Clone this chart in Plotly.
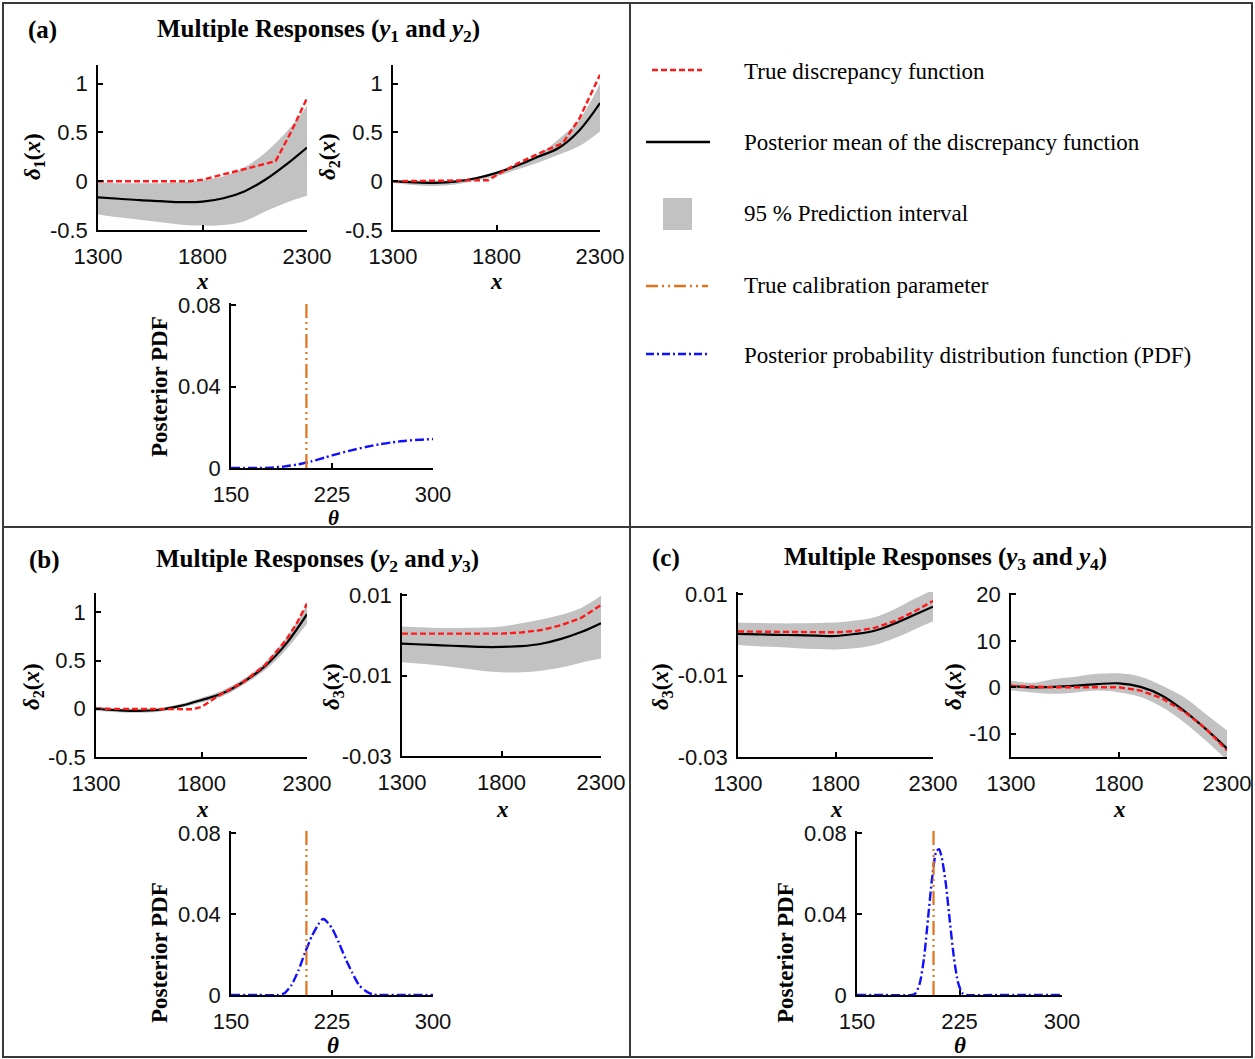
import plotly.graph_objects as go

W, H = 1255, 1059

# ---------------- data ----------------
X = [1300, 1400, 1500, 1600, 1700, 1800, 1900, 2000, 2100, 2200, 2300]

# (a) delta_1
A1_TRUE_X = [1300, 1740, 1800, 1900, 2000, 2100, 2150, 2225, 2300]
A1_TRUE_Y = [0, 0, 0.015, 0.07, 0.13, 0.18, 0.205, 0.51, 0.85]
A1_MEAN = [-0.165, -0.18, -0.195, -0.205, -0.215, -0.21, -0.175, -0.105, 0.015, 0.17, 0.345]
A1_UP = [-0.01, -0.02, -0.02, -0.02, -0.01, 0.01, 0.05, 0.14, 0.29, 0.5, 0.77]
A1_LO = [-0.34, -0.37, -0.395, -0.42, -0.445, -0.455, -0.45, -0.41, -0.31, -0.22, -0.15]

# (a) delta_2
A2_TRUE_X = [1300, 1760, 1800, 1900, 2000, 2120, 2200, 2250, 2300]
A2_TRUE_Y = [0, 0.01, 0.06, 0.18, 0.28, 0.39, 0.64, 0.86, 1.09]
A2_MEAN = [0, -0.012, -0.017, -0.005, 0.03, 0.085, 0.16, 0.25, 0.34, 0.52, 0.80]
A2_UP = [0.01, 0.008, 0.005, 0.01, 0.04, 0.095, 0.17, 0.27, 0.43, 0.63, 1.0]
A2_LO = [-0.017, -0.04, -0.05, -0.035, 0.007, 0.05, 0.12, 0.19, 0.27, 0.36, 0.51]

# (b) delta_2
B1_TRUE_X = [1300, 1700, 1760, 1800, 1850, 1900, 2000, 2100, 2200, 2250, 2300]
B1_TRUE_Y = [0, 0, -0.005, 0.02, 0.09, 0.16, 0.28, 0.45, 0.71, 0.88, 1.09]
B1_MEAN = [0, -0.015, -0.022, -0.01, 0.03, 0.09, 0.16, 0.28, 0.44, 0.67, 0.98]
B1_UP = [0.02, 0.005, -0.002, 0.01, 0.05, 0.115, 0.19, 0.31, 0.48, 0.73, 1.08]
B1_LO = [-0.02, -0.035, -0.042, -0.03, 0.01, 0.065, 0.13, 0.25, 0.40, 0.61, 0.88]

# (b) delta_3
B2_TRUE_X = [1300, 1800, 1900, 2000, 2100, 2200, 2300]
B2_TRUE_Y = [0.0004, 0.0004, 0.0007, 0.0013, 0.0025, 0.0043, 0.0075]
B2_MEAN = [-0.0021, -0.0023, -0.0025, -0.0027, -0.0029, -0.0029, -0.0027, -0.0021, -0.0009, 0.0008, 0.003]
B2_UP = [0.0022, 0.002, 0.0018, 0.0018, 0.0019, 0.0022, 0.003, 0.0039, 0.0051, 0.0068, 0.0098]
B2_LO = [-0.0067, -0.0071, -0.0076, -0.0082, -0.0088, -0.0092, -0.0092, -0.0088, -0.008, -0.0068, -0.0058]

# (c) delta_3
C1_TRUE_X = [1300, 1800, 1900, 2000, 2100, 2200, 2300]
C1_TRUE_Y = [0.0008, 0.0006, 0.0009, 0.0017, 0.0033, 0.0056, 0.0083]
C1_MEAN = [0.0002, 0.0001, 0.0, -0.0001, -0.0002, -0.0003, 0.0002, 0.001, 0.0027, 0.0048, 0.0069]
C1_UP = [0.003, 0.0029, 0.0028, 0.0028, 0.0029, 0.003, 0.0035, 0.0043, 0.0062, 0.0087, 0.011]
C1_LO = [-0.0025, -0.0028, -0.003, -0.0033, -0.0035, -0.0036, -0.0033, -0.0025, -0.0009, 0.0012, 0.0033]

# (c) delta_4
C2_TRUE_X = X
C2_TRUE_Y = [0.3, 0.1, 0.0, 0.0, 0.0, 0.0, -0.7, -2.4, -5.2, -8.8, -13.6]
C2_MEAN = [0.3, 0.0, 0.1, 0.35, 0.7, 0.85, 0.1, -1.8, -5.0, -8.9, -13.2]
C2_UP = [1.4, 1.0, 1.8, 2.3, 2.9, 3.0, 2.3, 0.35, -2.1, -5.7, -9.3]
C2_LO = [-0.7, -1.1, -1.4, -1.1, -0.7, -1.1, -2.1, -4.3, -7.5, -11.4, -15.7]

# posterior PDFs
TRUE_THETA = 206
PDF_A_T = [150, 160, 170, 180, 190, 200, 210, 220, 230, 240, 250, 260, 270, 280, 290, 300]
PDF_A_P = [0, 0, 0, 0.0002, 0.0008, 0.0018, 0.0033, 0.0052, 0.0071, 0.0088, 0.0103, 0.0116, 0.0126, 0.0134, 0.0139, 0.0142]
PDF_B_T = [150, 170, 185, 190, 195, 200, 205, 210, 215, 218, 220, 225, 230, 235, 240, 245, 250, 255, 260, 280, 300]
PDF_B_P = [0, 0, 0, 0.001, 0.005, 0.012, 0.021, 0.029, 0.035, 0.0375, 0.037, 0.033, 0.026, 0.018, 0.011, 0.005, 0.002, 0.0003, 0, 0, 0]
PDF_C_T = [150, 170, 190, 193, 196, 199, 202, 205, 208, 210, 212, 215, 218, 221, 224, 227, 230, 250, 270, 300]
PDF_C_P = [0, 0, 0, 0.001, 0.006, 0.018, 0.038, 0.058, 0.071, 0.072, 0.068, 0.055, 0.036, 0.018, 0.006, 0.001, 0, 0, 0, 0]

X_TICKS = [1300, 1800, 2300]
T_TICKS = [150, 225, 300]

# ---------------- styles ----------------
RED = "#ff1a1a"
BLUE = "#1010ff"
ORANGE = "#e2731e"
GRAY = "#c2c2c2"
FRAME = "#3a3a3a"
SERIF = "Liberation Serif"
SANS = "Liberation Sans"
TICKFONT = dict(family=SANS, size=22, color="#111")


def xdom(a, b):
    return [a / W, b / W]


def ydom(top, bottom):
    return [1 - bottom / H, 1 - top / H]


fig = go.Figure()

# subplot specs: (x px range, y px range, x range, y range, xticks, yticks, yticktext)
SPECS = {
    1: ((98, 307), (65, 230), [1300, 2300], [-0.5, 1.19], X_TICKS, [-0.5, 0, 0.5, 1], ["-0.5", "0", "0.5", "1"]),
    2: ((393, 600), (65, 230), [1300, 2300], [-0.5, 1.19], X_TICKS, [-0.5, 0, 0.5, 1], ["-0.5", "0", "0.5", "1"]),
    3: ((231, 433), (303, 468), [150, 300], [0, 0.081], T_TICKS, [0, 0.04, 0.08], ["0", "0.04", "0.08"]),
    4: ((96, 307), (593, 757), [1300, 2300], [-0.5, 1.2], X_TICKS, [-0.5, 0, 0.5, 1], ["-0.5", "0", "0.5", "1"]),
    5: ((402, 601), (593, 756), [1300, 2300], [-0.03, 0.0105], X_TICKS, [-0.03, -0.01, 0.01], ["-0.03", "-0.01", "0.01"]),
    6: ((231, 433), (831, 995), [150, 300], [0, 0.081], T_TICKS, [0, 0.04, 0.08], ["0", "0.04", "0.08"]),
    7: ((738, 933), (592, 757), [1300, 2300], [-0.03, 0.0105], X_TICKS, [-0.03, -0.01, 0.01], ["-0.03", "-0.01", "0.01"]),
    8: ((1011, 1227), (593, 757), [1300, 2300], [-15, 20.3], X_TICKS, [-10, 0, 10, 20], ["-10", "0", "10", "20"]),
    9: ((857, 1062), (831, 995), [150, 300], [0, 0.081], T_TICKS, [0, 0.04, 0.08], ["0", "0.04", "0.08"]),
}

layout_axes = {}
for i, (xp, yp, xr, yr, xt, yt, ytt) in SPECS.items():
    sx = "" if i == 1 else str(i)
    layout_axes["xaxis" + sx] = dict(
        domain=xdom(*xp), range=xr, anchor="y" + sx, tickvals=xt,
        ticktext=[str(v) for v in xt], showgrid=False, zeroline=False,
        showline=True, linecolor="#000", linewidth=1.5, ticks="inside",
        ticklen=5, tickwidth=1.5, tickcolor="#000", tickfont=TICKFONT,
        ticklabelstandoff=6, automargin=False, fixedrange=True,
    )
    layout_axes["yaxis" + sx] = dict(
        domain=ydom(*yp), range=yr, anchor="x" + sx, tickvals=yt,
        ticktext=ytt, showgrid=False, zeroline=False,
        showline=True, linecolor="#000", linewidth=1.5, ticks="inside",
        ticklen=5, tickwidth=1.5, tickcolor="#000", tickfont=TICKFONT,
        ticklabelstandoff=4, automargin=False, fixedrange=True,
    )


def ax(i):
    return ("x" if i == 1 else "x" + str(i)), ("y" if i == 1 else "y" + str(i))


def discrepancy(i, tx, ty, mean, up, lo):
    xa, ya = ax(i)
    fig.add_trace(go.Scatter(x=X, y=lo, mode="lines", line=dict(width=0, shape="spline"),
                             xaxis=xa, yaxis=ya, showlegend=False, hoverinfo="skip"))
    fig.add_trace(go.Scatter(x=X, y=up, mode="lines", line=dict(width=0, shape="spline"),
                             fill="tonexty", fillcolor=GRAY,
                             xaxis=xa, yaxis=ya, showlegend=False, hoverinfo="skip"))
    fig.add_trace(go.Scatter(x=X, y=mean, mode="lines", line=dict(color="#000", width=2.2, shape="spline"),
                             xaxis=xa, yaxis=ya, showlegend=False))
    fig.add_trace(go.Scatter(x=tx, y=ty, mode="lines", line=dict(color=RED, width=2.4, dash="6px,3px"),
                             xaxis=xa, yaxis=ya, showlegend=False))


def pdfplot(i, t, p):
    xa, ya = ax(i)
    fig.add_trace(go.Scatter(x=t, y=p, mode="lines",
                             line=dict(color=BLUE, width=2.4, dash="9px,3px,2px,3px", shape="spline", smoothing=0.6),
                             xaxis=xa, yaxis=ya, showlegend=False))
    fig.add_trace(go.Scatter(x=[TRUE_THETA, TRUE_THETA], y=[0, 0.082], mode="lines",
                             line=dict(color=ORANGE, width=2.2, dash="14px,4px,2px,4px,2px,4px"),
                             xaxis=xa, yaxis=ya, showlegend=False, cliponaxis=False))


discrepancy(1, A1_TRUE_X, A1_TRUE_Y, A1_MEAN, A1_UP, A1_LO)
discrepancy(2, A2_TRUE_X, A2_TRUE_Y, A2_MEAN, A2_UP, A2_LO)
pdfplot(3, PDF_A_T, PDF_A_P)
discrepancy(4, B1_TRUE_X, B1_TRUE_Y, B1_MEAN, B1_UP, B1_LO)
discrepancy(5, B2_TRUE_X, B2_TRUE_Y, B2_MEAN, B2_UP, B2_LO)
pdfplot(6, PDF_B_T, PDF_B_P)
discrepancy(7, C1_TRUE_X, C1_TRUE_Y, C1_MEAN, C1_UP, C1_LO)
discrepancy(8, C2_TRUE_X, C2_TRUE_Y, C2_MEAN, C2_UP, C2_LO)
pdfplot(9, PDF_C_T, PDF_C_P)

# ---------------- annotations ----------------
ann = []


def text(x, y, s, size=22, angle=0, family=SERIF, xanchor="center"):
    ann.append(dict(x=x / W, y=1 - y / H, xref="paper", yref="paper", text=s, showarrow=False,
                    textangle=angle, xanchor=xanchor, yanchor="middle",
                    font=dict(family=family, size=size, color="#000")))


# panel labels and titles
text(42, 30, "<b>(a)</b>", size=25)
text(318, 30, "<b>Multiple Responses (<i>y</i><sub>1</sub> and <i>y</i><sub>2</sub>)</b>", size=25)
text(44, 560, "<b>(b)</b>", size=25)
text(317, 560, "<b>Multiple Responses (<i>y</i><sub>2</sub> and <i>y</i><sub>3</sub>)</b>", size=25)
text(666, 558, "<b>(c)</b>", size=25)
text(945, 558, "<b>Multiple Responses (<i>y</i><sub>3</sub> and <i>y</i><sub>4</sub>)</b>", size=25)

# axis titles
D = lambda k: "<b><i>δ</i><sub>%d</sub>(<i>x</i>)</b>" % k
XT = "<b><i>x</i></b>"
TT = "<b><i>θ</i></b>"
PP = "<b>Posterior PDF</b>"
text(34, 157, D(1), size=23, angle=-90)
text(329, 157, D(2), size=23, angle=-90)
text(202, 281, XT, size=23)
text(496, 281, XT, size=23)
text(159, 387, PP, size=23, angle=-90)
text(333, 518, TT, size=21)

text(33, 687, D(2), size=23, angle=-90)
text(333, 687, D(3), size=23, angle=-90)
text(202, 809, XT, size=23)
text(502, 809, XT, size=23)
text(159, 953, PP, size=23, angle=-90)
text(333, 1045, TT, size=23)

text(662, 687, D(3), size=23, angle=-90)
text(955, 687, D(4), size=23, angle=-90)
text(836, 809, XT, size=23)
text(1119, 809, XT, size=23)
text(785, 953, PP, size=23, angle=-90)
text(960, 1045, TT, size=23)

# legend texts
LEG = [
    (71, "True discrepancy function"),
    (143, "Posterior mean of the discrepancy function"),
    (214, "95 % Prediction interval"),
    (286, "True calibration parameter"),
    (355, "Posterior probability distribution function (PDF)"),
]
for y, s in LEG:
    text(742, y, s, size=23, xanchor="left")

shapes = []


def pline(x0, y0, x1, y1, color, width, dash="solid"):
    shapes.append(dict(type="line", xref="paper", yref="paper", x0=x0 / W, x1=x1 / W,
                       y0=1 - y0 / H, y1=1 - y1 / H, line=dict(color=color, width=width, dash=dash)))


# legend samples
pline(652, 70, 702, 70, RED, 2.4, "6px,3px")
pline(646, 142, 710, 142, "#000", 2.4)
shapes.append(dict(type="rect", xref="paper", yref="paper", x0=663 / W, x1=692 / W,
                   y0=1 - 230 / H, y1=1 - 198 / H, fillcolor=GRAY, line=dict(width=0)))
pline(646, 286, 708, 286, ORANGE, 2.4, "12px,4px,2px,4px,2px,4px")
pline(646, 354, 708, 354, BLUE, 2.4, "8px,3px,2px,3px")

# frame and dividers
shapes.append(dict(type="rect", xref="paper", yref="paper", x0=3 / W, x1=1252 / W,
                   y0=1 - 1057 / H, y1=1 - 3 / H, line=dict(color=FRAME, width=2)))
pline(630, 3, 630, 1057, FRAME, 2)
pline(3, 527, 1252, 527, FRAME, 2)

fig.update_layout(
    width=W, height=H, margin=dict(l=0, r=0, t=0, b=0, pad=0, autoexpand=False),
    autosize=False,
    paper_bgcolor="white", plot_bgcolor="white",
    annotations=ann, shapes=shapes, showlegend=False,
    **layout_axes,
)

fig.write_html("out.html", post_script="document.body.style.margin='0';",
               config={"displayModeBar": False})
